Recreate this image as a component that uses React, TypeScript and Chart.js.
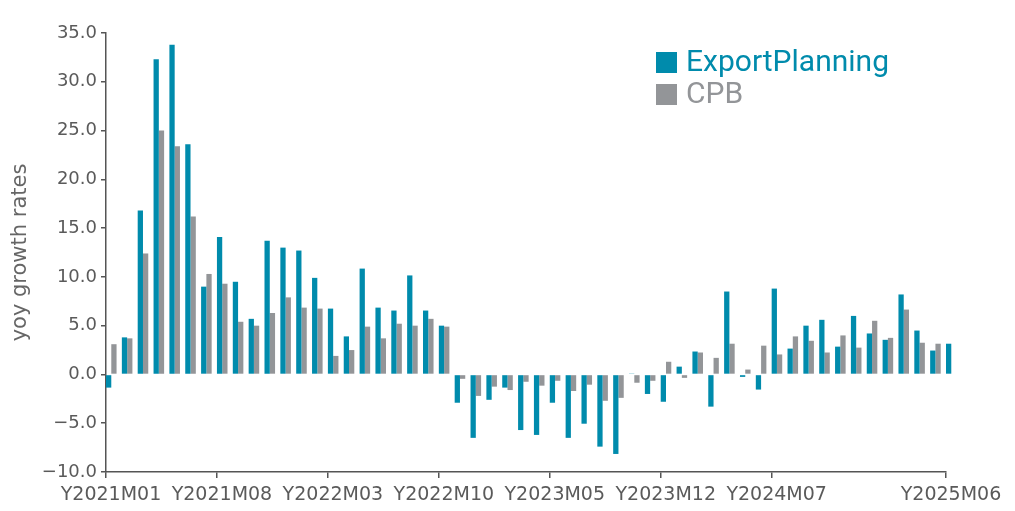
import React, { useEffect, useRef } from 'react';
import { Chart, registerables } from 'chart.js';

Chart.register(...registerables);

const months: string[] = [
  'Y2021M01', 'Y2021M02', 'Y2021M03', 'Y2021M04', 'Y2021M05', 'Y2021M06', 'Y2021M07', 'Y2021M08', 'Y2021M09', 'Y2021M10', 'Y2021M11', 'Y2021M12',
  'Y2022M01', 'Y2022M02', 'Y2022M03', 'Y2022M04', 'Y2022M05', 'Y2022M06', 'Y2022M07', 'Y2022M08', 'Y2022M09', 'Y2022M10', 'Y2022M11', 'Y2022M12',
  'Y2023M01', 'Y2023M02', 'Y2023M03', 'Y2023M04', 'Y2023M05', 'Y2023M06', 'Y2023M07', 'Y2023M08', 'Y2023M09', 'Y2023M10', 'Y2023M11', 'Y2023M12',
  'Y2024M01', 'Y2024M02', 'Y2024M03', 'Y2024M04', 'Y2024M05', 'Y2024M06', 'Y2024M07', 'Y2024M08', 'Y2024M09', 'Y2024M10', 'Y2024M11', 'Y2024M12',
  'Y2025M01', 'Y2025M02', 'Y2025M03', 'Y2025M04', 'Y2025M05', 'Y2025M06',
];

const exportPlanning: (number | null)[] = [
  -1.35, 3.8, 16.8, 32.3, 33.8, 23.6, 9.0, 14.1, 9.5, 5.7, 13.7, 13.0,
  12.7, 9.9, 6.75, 3.9, 10.85, 6.85, 6.55, 10.15, 6.55, 5.0, -2.9, -6.5,
  -2.6, -1.35, -5.7, -6.2, -2.9, -6.5, -5.05, -7.4, -8.15, 0.1, -2.0, -2.8,
  0.8, 2.35, -3.3, 8.5, -0.25, -1.55, 8.8, 2.65, 5.0, 5.6, 2.85, 6.0,
  4.2, 3.55, 8.2, 4.5, 2.45, 3.15,
];

const cpb: (number | null)[] = [
  3.1, 3.7, 12.4, 25.0, 23.4, 16.2, 10.3, 9.3, 5.4, 5.0, 6.3, 7.9,
  6.85, 6.75, 1.9, 2.5, 4.9, 3.7, 5.2, 5.0, 5.7, 4.9, -0.45, -2.2,
  -1.25, -1.6, -0.75, -1.15, -0.65, -1.7, -1.05, -2.7, -2.4, -0.85, -0.65, 1.3,
  -0.35, 2.25, 1.7, 3.15, 0.5, 2.95, 2.05, 3.9, 3.45, 2.25, 4.0, 2.75,
  5.5, 3.75, 6.65, 3.25, 3.15, null,
];

const xTickIndices: number[] = [0, 7, 14, 21, 28, 35, 42, 53];
const yTicks = { min: -10, max: 35, step: 5 };

const EP_COLOR = '#008BAC';
const CPB_COLOR = '#939598';
const AXIS_COLOR = '#555555';
const TEXT_COLOR = '#5a5a5a';

const insideLegend = {
  id: 'insideLegend',
  afterDraw(chart: any) {
    const ctx = chart.ctx;
    ctx.save();
    ctx.font = '30px Roboto';
    ctx.textBaseline = 'middle';
    ctx.textAlign = 'left';
    chart.data.datasets.forEach((ds: any, i: number) => {
      const x = 656;
      const y = 52 + i * 32;
      ctx.fillStyle = ds.backgroundColor;
      ctx.fillRect(x, y, 21, 21);
      ctx.fillText(ds.label, x + 30, y + 11);
    });
    ctx.restore();
  },
};

export default function App() {
  const canvasRef = useRef<HTMLCanvasElement | null>(null);

  useEffect(() => {
    if (!canvasRef.current) return;
    const toPoints = (arr: (number | null)[]) =>
      arr.map((v, i) => ({ x: i + 1 / 3, y: v }));

    const chart = new Chart(canvasRef.current, {
      type: 'bar',
      data: {
        datasets: [
          {
            label: 'ExportPlanning',
            data: toPoints(exportPlanning) as any,
            backgroundColor: EP_COLOR,
            borderWidth: 0,
            barPercentage: 1,
            categoryPercentage: 2 / 3,
            clip: false as any,
          },
          {
            label: 'CPB',
            data: toPoints(cpb) as any,
            backgroundColor: CPB_COLOR,
            borderWidth: 0,
            barPercentage: 1,
            categoryPercentage: 2 / 3,
            clip: false as any,
          },
        ],
      },
      options: {
        animation: false,
        responsive: false,
        maintainAspectRatio: false,
        layout: { padding: { top: 33, right: 69, left: 0, bottom: 0 } },
        plugins: {
          legend: { display: false },
          tooltip: { enabled: false },
        },
        scales: {
          x: {
            type: 'linear',
            min: 0,
            max: months.length - 1,
            offset: false,
            grid: {
              offset: false,
              drawOnChartArea: false,
              drawTicks: true,
              tickLength: 6,
              color: AXIS_COLOR,
              lineWidth: 1.5,
            },
            border: { display: true, color: AXIS_COLOR, width: 1.5 },
            ticks: {
              autoSkip: false,
              maxRotation: 0,
              minRotation: 0,
              padding: 6,
              labelOffset: 5,
              color: TEXT_COLOR,
              font: { family: 'DejaVu Sans', size: 19 },
              callback: (v: any) => months[Number(v)] ?? '',
            },
            afterBuildTicks: (scale: any) => {
              scale.ticks = xTickIndices.map((v) => ({ value: v }));
            },
            afterFit: (scale: any) => {
              scale.height = 39;
            },
          },
          y: {
            type: 'linear',
            min: yTicks.min,
            max: yTicks.max,
            grid: {
              drawOnChartArea: false,
              drawTicks: true,
              tickLength: 5,
              color: AXIS_COLOR,
              lineWidth: 1.5,
            },
            border: { display: true, color: AXIS_COLOR, width: 1.5 },
            ticks: {
              stepSize: yTicks.step,
              padding: 4,
              color: TEXT_COLOR,
              font: { family: 'DejaVu Sans', size: 18 },
              callback: (v: any) => {
                const n = Number(v);
                return (n < 0 ? '\u2212' : '') + Math.abs(n).toFixed(1);
              },
            },
            title: {
              display: true,
              text: 'yoy growth rates',
              color: '#666666',
              font: { family: 'DejaVu Sans', size: 21 },
              padding: { top: 8, bottom: 0 },
            },
            afterFit: (scale: any) => {
              scale.width = 106;
            },
          },
        },
      } as any,
      plugins: [insideLegend],
    });

    return () => chart.destroy();
  }, []);

  return (
    <div style={{ position: 'absolute', left: 0, top: 0, width: 1015, height: 511 }}>
      <canvas ref={canvasRef} width={1015} height={511} style={{ display: 'block' }} />
    </div>
  );
}
